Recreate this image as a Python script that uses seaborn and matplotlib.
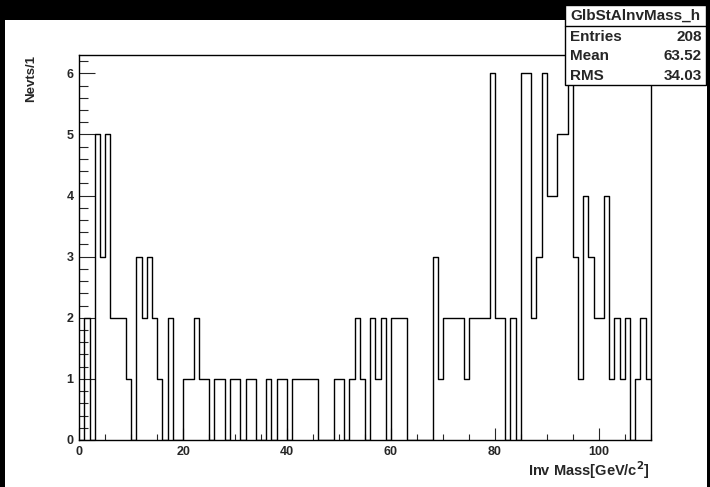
import numpy as np
import pandas as pd
import seaborn as sns
import matplotlib.pyplot as plt
from matplotlib.patches import Rectangle
from matplotlib.lines import Line2D
from matplotlib.ticker import MultipleLocator

# Bin contents of the histogram, 1 GeV wide bins from 0 to 110
counts = [0, 2, 0, 5, 3, 5, 2, 2, 2, 1,
          0, 3, 2, 3, 2, 1, 0, 2, 0, 0,
          1, 1, 2, 1, 1, 0, 1, 1, 0, 1,
          1, 0, 1, 1, 0, 0, 1, 0, 1, 1,
          0, 1, 1, 1, 1, 1, 0, 0, 0, 1,
          1, 0, 1, 2, 1, 0, 2, 1, 2, 0,
          2, 2, 2, 0, 0, 0, 0, 0, 3, 1,
          2, 2, 2, 2, 1, 2, 2, 2, 2, 6,
          2, 2, 0, 2, 0, 6, 6, 2, 3, 6,
          4, 4, 5, 5, 6, 3, 1, 4, 3, 2,
          2, 4, 1, 2, 1, 2, 0, 1, 2, 1]
x_min, x_max = 0, 110

# Stats box entries
stats_title = 'GlbStAlnvMass_h'
stats_names = ['Entries', 'Mean', 'RMS']
stats_values = ['208', '63.52', '34.03']

centers = np.arange(x_min, x_max) + 0.5
df = pd.DataFrame({'mass': centers, 'n': counts})

sns.set_style('ticks')
plt.rcParams['font.family'] = ['Liberation Sans', 'DejaVu Sans']
plt.rcParams['font.weight'] = 'bold'

W, H = 710, 487
fig = plt.figure(figsize=(W / 100, H / 100), dpi=100)
fig.patch.set_facecolor('white')


def fx(x):
    return x / W


def fy(y):
    return 1 - y / H


# black canvas border seen at the top, left and right
fig.patches.append(Rectangle((0, fy(20)), 1, 20 / H, transform=fig.transFigure,
                             facecolor='black', edgecolor='none', zorder=0))
fig.patches.append(Rectangle((0, 0), 5 / W, 1, transform=fig.transFigure,
                             facecolor='black', edgecolor='none', zorder=0))
fig.patches.append(Rectangle((fx(707), 0), 3 / W, 1, transform=fig.transFigure,
                             facecolor='black', edgecolor='none', zorder=0))

ax = fig.add_axes([fx(79.3), fy(440), fx(650.7) - fx(79.3), fy(55) - fy(440)])
sns.histplot(data=df, x='mass', weights='n', binwidth=1, binrange=(x_min, x_max),
             element='step', fill=False, color='black', linewidth=1.0, ax=ax)

ax.set_xlim(x_min, x_max)
ax.set_ylim(0, 6.3)
ax.xaxis.set_major_locator(MultipleLocator(20))
ax.xaxis.set_minor_locator(MultipleLocator(5))
ax.yaxis.set_major_locator(MultipleLocator(1))
ax.yaxis.set_minor_locator(MultipleLocator(0.2))
ax.tick_params(axis='x', which='major', direction='in', length=8.6, width=0.8,
               labelsize=9, pad=4, top=False)
ax.tick_params(axis='x', which='minor', direction='in', length=4.3, width=0.8, top=False)
ax.tick_params(axis='y', which='major', direction='in', length=11.5, width=0.8,
               labelsize=9, pad=4, right=False)
ax.tick_params(axis='y', which='minor', direction='in', length=6.3, width=0.8, right=False)
for lab in ax.get_xticklabels() + ax.get_yticklabels():
    lab.set_fontweight('bold')
for sp in ax.spines.values():
    sp.set_visible(True)
    sp.set_linewidth(1.0)
    sp.set_color('black')

ax.set_xlabel('')
ax.set_ylabel('')
fig.text(fx(650), fy(470), 'Inv Mass[GeV/c$^\\mathbf{2}$]', ha='right', va='center',
         fontsize=10.5, fontweight='bold')
fig.text(fx(31), fy(55), 'Nevts/1', ha='center', va='top', rotation=90,
         fontsize=9.5, fontweight='bold')

# ROOT style stats box
bx0, bx1, by0, by1 = 565, 706, 5, 85
fig.patches.append(Rectangle((fx(bx0), fy(by1)), fx(bx1) - fx(bx0), fy(by0) - fy(by1),
                             transform=fig.transFigure, facecolor='white',
                             edgecolor='black', linewidth=1.0, zorder=5))
fig.lines.append(Line2D([fx(bx0), fx(bx1)], [fy(26), fy(26)], transform=fig.transFigure,
                        color='black', linewidth=1.0, zorder=6))
fig.text(fx((bx0 + bx1) / 2), fy(16), stats_title, ha='center', va='center',
         fontsize=11, fontweight='bold', zorder=7)
for i, (name, val) in enumerate(zip(stats_names, stats_values)):
    yc = 37 + 19.5 * i
    fig.text(fx(bx0 + 5), fy(yc), name, ha='left', va='center', fontsize=11,
             fontweight='bold', zorder=7)
    fig.text(fx(bx1 - 4), fy(yc), val, ha='right', va='center', fontsize=11,
             fontweight='bold', zorder=7)

fig.savefig('out.png', dpi=100)
